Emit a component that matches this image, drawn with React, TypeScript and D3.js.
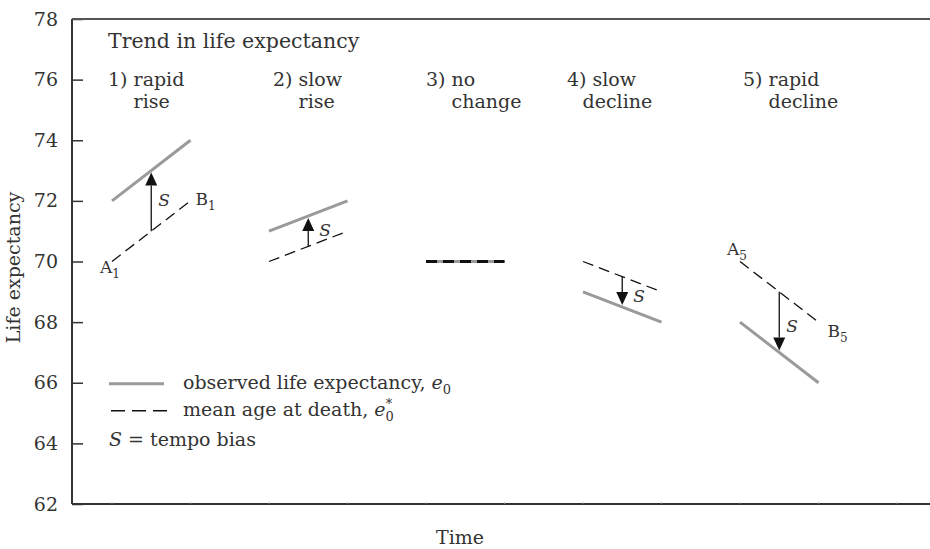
import React, { useEffect, useRef } from 'react';
import * as d3 from 'd3';

// scenario labels
const scenarioNumbers = ['1)', '2)', '3)', '4)', '5)'];
const scenarioWord1 = ['rapid', 'slow', 'no', 'slow', 'rapid'];
const scenarioWord2 = ['rise', 'rise', 'change', 'decline', 'decline'];

// time span of each scenario segment
const timeStart = [1, 3, 5, 7, 9];
const timeEnd = [2, 4, 6, 8, 10];

// observed life expectancy e0 (grey solid)
const observedStart = [72, 71, 70, 69, 68];
const observedEnd = [74, 72, 70, 68, 66];

// mean age at death e0* (dashed)
const meanAgeStart = [70, 70, 70, 70, 70];
const meanAgeEnd = [72, 71, 70, 69, 68];

const yTicks = [62, 64, 66, 68, 70, 72, 74, 76, 78];
const xTicks = [1, 2, 3, 4, 5, 6, 7, 8, 9, 10, 11];

const W = 930, H = 549;
const FONT = 'DejaVu Serif';
const TXT = '#333';
const GREY = '#9a9a9a';

export default function App() {
  const svgRef = useRef<SVGSVGElement>(null);

  useEffect(() => {
    const svg = d3.select(svgRef.current);
    svg.selectAll('*').remove();

    const x = d3.scaleLinear().domain([1, 11]).range([112, 897]);
    const y = d3.scaleLinear().domain([62, 78]).range([504, 19]);
    const left = 72;

    // y axis, ticks pointing inward
    const yAxis = svg.append('g')
      .attr('transform', `translate(${left},0)`)
      .call(d3.axisLeft(y).tickValues(yTicks).tickSizeInner(-11).tickSizeOuter(0).tickPadding(14));
    yAxis.select('.domain').remove();
    yAxis.selectAll('line').attr('stroke', '#333').attr('stroke-width', 1.5);
    yAxis.selectAll('text')
      .attr('font-family', FONT).attr('font-size', 19).attr('fill', TXT);

    // frame lines
    svg.append('line').attr('x1', left).attr('x2', left).attr('y1', y(78)).attr('y2', y(62))
      .attr('stroke', '#333').attr('stroke-width', 2);
    svg.append('line').attr('x1', left).attr('x2', W).attr('y1', y(78)).attr('y2', y(78))
      .attr('stroke', '#555').attr('stroke-width', 2);
    svg.append('line').attr('x1', left).attr('x2', W).attr('y1', y(62)).attr('y2', y(62))
      .attr('stroke', '#333').attr('stroke-width', 2);

    // tiny time ticks along the bottom
    svg.append('g').selectAll('line').data(xTicks).enter().append('line')
      .attr('x1', d => x(d)).attr('x2', d => x(d))
      .attr('y1', y(62)).attr('y2', y(62) - 1.5)
      .attr('stroke', '#888').attr('stroke-width', 1);

    // axis titles
    svg.append('text').attr('x', 460).attr('y', 544).attr('text-anchor', 'middle')
      .attr('font-family', FONT).attr('font-size', 19).attr('fill', TXT).text('Time');
    svg.append('text')
      .attr('transform', `translate(20,${(y(68) + y(72)) / 2 + 6}) rotate(-90)`)
      .attr('text-anchor', 'middle')
      .attr('font-family', FONT).attr('font-size', 19).attr('fill', TXT).text('Life expectancy');

    // heading
    svg.append('text').attr('x', 108).attr('y', 48)
      .attr('font-family', FONT).attr('font-size', 20.5).attr('fill', TXT)
      .text('Trend in life expectancy');

    // scenario labels
    const labelDx = [-4, 4, 0, -16, 3];
    scenarioNumbers.forEach((num, i) => {
      const x0 = x(timeStart[i]) + labelDx[i];
      const t1 = svg.append('text').attr('x', x0).attr('y', 86)
        .attr('font-family', FONT).attr('font-size', 19).attr('fill', TXT);
      const pre = t1.append('tspan').text(num + ' ');
      t1.append('tspan').text(scenarioWord1[i]);
      const indent = (pre.node() as SVGTSpanElement).getComputedTextLength();
      svg.append('text').attr('x', x0 + indent - (i === 3 ? 10 : 0)).attr('y', 108)
        .attr('font-family', FONT).attr('font-size', 19).attr('fill', TXT)
        .text(scenarioWord2[i]);
    });

    // segments
    const idx = d3.range(scenarioNumbers.length);
    svg.append('g').selectAll('line').data(idx).enter().append('line')
      .attr('x1', i => x(timeStart[i])).attr('x2', i => x(timeEnd[i]))
      .attr('y1', i => y(observedStart[i])).attr('y2', i => y(observedEnd[i]))
      .attr('stroke', GREY).attr('stroke-width', 3);
    svg.append('g').selectAll('line').data(idx).enter().append('line')
      .attr('x1', i => x(timeStart[i])).attr('x2', i => x(timeEnd[i]))
      .attr('y1', i => y(meanAgeStart[i])).attr('y2', i => y(meanAgeEnd[i]))
      .attr('stroke', '#111')
      .attr('stroke-width', i => (observedStart[i] === meanAgeStart[i] && observedEnd[i] === meanAgeEnd[i] ? 3 : 1.3))
      .attr('stroke-dasharray', '11,6');

    // tempo bias arrows
    idx.forEach(i => {
      const tm = (timeStart[i] + timeEnd[i]) / 2;
      const from = (meanAgeStart[i] + meanAgeEnd[i]) / 2;
      const to = (observedStart[i] + observedEnd[i]) / 2;
      if (from === to) return;
      const ax = x(tm), y0 = y(from), y1 = y(to);
      const dir = y1 < y0 ? -1 : 1;
      const tip = y1 - dir * 2;
      const headLen = 13, headW = 6;
      svg.append('line').attr('x1', ax).attr('x2', ax).attr('y1', y0).attr('y2', tip - dir * headLen)
        .attr('stroke', '#111').attr('stroke-width', 1.3);
      svg.append('path')
        .attr('d', `M${ax},${tip} L${ax - headW},${tip - dir * headLen} L${ax + headW},${tip - dir * headLen} Z`)
        .attr('fill', '#111');
      const sx = [7, 11, 0, 11, 7][i];
      svg.append('text').attr('x', ax + sx).attr('y', (y0 + y1) / 2 + (dir < 0 ? 5 : 10))
        .attr('font-family', FONT).attr('font-style', 'italic').attr('font-size', 17).attr('fill', TXT)
        .text('S');
    });

    // A / B point labels
    const pointLabel = (px: number, py: number, letter: string, sub: string) => {
      const t = svg.append('text').attr('x', px).attr('y', py)
        .attr('font-family', FONT).attr('font-size', 17).attr('fill', TXT);
      t.append('tspan').text(letter);
      t.append('tspan').attr('font-size', 12).attr('dy', 5).text(sub);
    };
    pointLabel(x(timeStart[0]) - 12, y(meanAgeStart[0]) + 11, 'A', '1');
    pointLabel(x(timeEnd[0]) + 5, y(meanAgeEnd[0]) + 4, 'B', '1');
    pointLabel(x(timeStart[4]) - 13, y(meanAgeStart[4]) - 7, 'A', '5');
    pointLabel(x(timeEnd[4]) + 9, y(meanAgeEnd[4]) + 15, 'B', '5');

    // legend
    const lx = 109, ly = y(66);
    svg.append('line').attr('x1', lx).attr('x2', lx + 55).attr('y1', ly + 1).attr('y2', ly + 1)
      .attr('stroke', GREY).attr('stroke-width', 3);
    const l1 = svg.append('text').attr('x', 183).attr('y', ly + 6)
      .attr('font-family', FONT).attr('font-size', 19).attr('fill', TXT);
    l1.append('tspan').text('observed life expectancy, ');
    l1.append('tspan').attr('font-style', 'italic').text('e');
    l1.append('tspan').attr('font-size', 13).attr('dy', 5).text('0');

    svg.append('line').attr('x1', lx + 2).attr('x2', lx + 58).attr('y1', ly + 28).attr('y2', ly + 28)
      .attr('stroke', '#111').attr('stroke-width', 1.3).attr('stroke-dasharray', '14,7');
    const l2 = svg.append('text').attr('x', 183).attr('y', ly + 33)
      .attr('font-family', FONT).attr('font-size', 19).attr('fill', TXT);
    l2.append('tspan').text('mean age at death, ');
    l2.append('tspan').attr('font-style', 'italic').text('e');
    l2.append('tspan').attr('font-size', 13).attr('dy', 5).text('0');
    l2.append('tspan').attr('font-size', 13).attr('dy', -13).attr('dx', -8).text('*');

    const l3 = svg.append('text').attr('x', lx).attr('y', ly + 63)
      .attr('font-family', FONT).attr('font-size', 19).attr('fill', TXT);
    l3.append('tspan').attr('font-style', 'italic').text('S');
    l3.append('tspan').text(' = tempo bias');
  }, []);

  return (
    <svg ref={svgRef} width={W} height={H}
      style={{ position: 'absolute', left: 0, top: 0, background: '#fff' }} />
  );
}
